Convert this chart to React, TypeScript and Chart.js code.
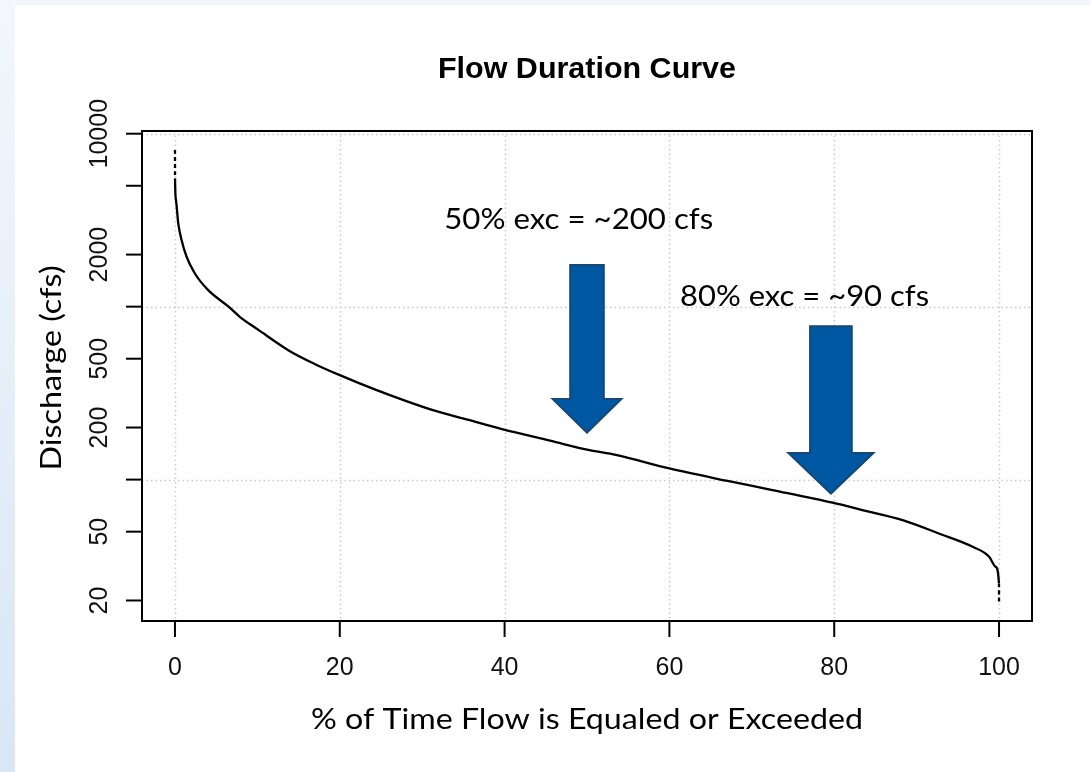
import React, { useEffect, useRef } from "react";
import { Chart, registerables } from "chart.js";

Chart.register(...registerables);

// ---------- data ----------
const pctExceeded = [
  0, 0.01, 0.12, 0.4, 0.8, 1.4, 2.4, 4.0, 6.5, 7.9, 10, 13.9, 17, 20, 24.4, 28, 31.3, 35.5,
  39.8, 45.5, 50.3, 53.5, 60, 66.9, 72.5, 79.8, 83.4, 88.3, 92.7, 96.8, 98.8, 99.6, 99.99, 100,
];
const dischargeCfs = [
  8050, 5500, 4140, 3030, 2430, 1950, 1560, 1250, 1000, 871, 741, 554, 465, 402, 330, 285, 252, 222,
  195, 168, 148, 139, 116, 98.6, 87, 73.5, 66.7, 58.3, 48.8, 40.9, 35.8, 31.3, 25.1, 19.3,
];

const xTickValues = [0, 20, 40, 60, 80, 100];
const xTickLabels = ["0", "20", "40", "60", "80", "100"];
const yTickValues = [20, 50, 100, 200, 500, 1000, 2000, 5000, 10000];
const yTickLabels = ["20", "50", "", "200", "500", "", "2000", "", "10000"];
const xGridValues = [0, 20, 40, 60, 80, 100];
const yGridValues = [100, 1000, 10000];

const annotationTexts = ["50% exc = ~200 cfs", "80% exc = ~90 cfs"];
const annotationTextPct = [49.0, 76.4];
const annotationTextCfs = [3170, 1137];
const arrowTipPct = [50, 79.6];
const arrowTipCfs = [187, 83];

const chartTitle = "Flow Duration Curve";
const xAxisTitle = "% of Time Flow is Equaled or Exceeded";
const yAxisTitle = "Discharge (cfs)";

const X_MIN = -4;
const X_MAX = 104;
const Y_MIN = 15.22;
const Y_MAX = 10366;

// ---------- styles ----------
const W = 1091;
const H = 772;
const arrowStyle = [
  { len: 167.7, shaftW: 33.6, headW: 68.7, headL: 33.7 },
  { len: 167.3, shaftW: 41.7, headW: 85, headL: 40.6 },
];
const TICK_FONT = "25px 'Liberation Sans', Arial, sans-serif";

function fitText(
  ctx: CanvasRenderingContext2D,
  text: string,
  cx: number,
  cy: number,
  font: string,
  targetW: number,
  rot = 0,
  color = "#000"
) {
  ctx.save();
  ctx.font = font;
  const w = ctx.measureText(text).width;
  ctx.translate(cx, cy);
  ctx.rotate(rot);
  ctx.scale(targetW / w, 1);
  ctx.textAlign = "center";
  ctx.textBaseline = "middle";
  ctx.fillStyle = color;
  ctx.fillText(text, 0, 0);
  ctx.restore();
}

const decorPlugin = {
  id: "decor",
  beforeDraw(chart: any) {
    const ctx: CanvasRenderingContext2D = chart.ctx;
    const { left, right, top, bottom } = chart.chartArea;
    const xs = chart.scales.x;
    const ys = chart.scales.y;
    ctx.save();
    ctx.fillStyle = "#ffffff";
    ctx.fillRect(0, 0, W, H);
    ctx.fillStyle = "#f2f6fb";
    ctx.fillRect(0, 0, W, 5);
    const g = ctx.createLinearGradient(0, 0, 0, H);
    g.addColorStop(0, "#f3f7fc");
    g.addColorStop(1, "#d9e6f5");
    ctx.fillStyle = g;
    ctx.fillRect(0, 0, 15, H);
    ctx.strokeStyle = "#c9c9c9";
    ctx.lineWidth = 1.5;
    ctx.setLineDash([1.5, 3]);
    xGridValues.forEach((v) => {
      const px = Math.round(xs.getPixelForValue(v)) + 0.5;
      ctx.beginPath();
      ctx.moveTo(px, top);
      ctx.lineTo(px, bottom);
      ctx.stroke();
    });
    yGridValues.forEach((v) => {
      const py = Math.round(ys.getPixelForValue(v)) + 0.5;
      ctx.beginPath();
      ctx.moveTo(left, py);
      ctx.lineTo(right, py);
      ctx.stroke();
    });
    ctx.restore();
  },
  afterDatasetsDraw(chart: any) {
    const ctx: CanvasRenderingContext2D = chart.ctx;
    const { left, right, top, bottom } = chart.chartArea;
    const xs = chart.scales.x;
    const ys = chart.scales.y;
    ctx.save();
    ctx.strokeStyle = "#000";
    ctx.lineWidth = 2;
    ctx.setLineDash([]);
    ctx.strokeRect(left, top, right - left, bottom - top);
    xTickValues.forEach((v, i) => {
      const px = xs.getPixelForValue(v);
      ctx.beginPath();
      ctx.moveTo(px, bottom);
      ctx.lineTo(px, bottom + 16);
      ctx.stroke();
      ctx.font = TICK_FONT;
      ctx.fillStyle = "#111";
      ctx.textAlign = "center";
      ctx.textBaseline = "middle";
      ctx.fillText(xTickLabels[i], px, 668);
    });
    yTickValues.forEach((v, i) => {
      const py = ys.getPixelForValue(v);
      ctx.beginPath();
      ctx.moveTo(left - 16, py);
      ctx.lineTo(left, py);
      ctx.stroke();
      if (yTickLabels[i]) {
        ctx.save();
        ctx.translate(100, py);
        ctx.rotate(-Math.PI / 2);
        ctx.font = TICK_FONT;
        ctx.fillStyle = "#111";
        ctx.textAlign = "center";
        ctx.textBaseline = "middle";
        ctx.fillText(yTickLabels[i], 0, 0);
        ctx.restore();
      }
    });
    fitText(ctx, chartTitle, (left + right) / 2, 70, "bold 29px 'Liberation Sans', Arial, sans-serif", 298);
    fitText(ctx, xAxisTitle, (left + right) / 2, 720, "28px Lato, 'Open Sans', sans-serif", 552);
    fitText(ctx, yAxisTitle, 52, 368, "28px Lato, 'Open Sans', sans-serif", 205, -Math.PI / 2);
    arrowTipPct.forEach((p, i) => {
      const tx = xs.getPixelForValue(p);
      const ty = ys.getPixelForValue(arrowTipCfs[i]);
      const s = arrowStyle[i];
      ctx.beginPath();
      ctx.moveTo(tx - s.shaftW / 2, ty - s.len);
      ctx.lineTo(tx + s.shaftW / 2, ty - s.len);
      ctx.lineTo(tx + s.shaftW / 2, ty - s.headL);
      ctx.lineTo(tx + s.headW / 2, ty - s.headL);
      ctx.lineTo(tx, ty);
      ctx.lineTo(tx - s.headW / 2, ty - s.headL);
      ctx.lineTo(tx - s.shaftW / 2, ty - s.headL);
      ctx.closePath();
      ctx.fillStyle = "#0058a2";
      ctx.fill();
      ctx.strokeStyle = "#154877";
      ctx.lineWidth = 2;
      ctx.stroke();
    });
    const targets = [269, 249];
    annotationTexts.forEach((t, i) => {
      const cx = xs.getPixelForValue(annotationTextPct[i]);
      const cy = ys.getPixelForValue(annotationTextCfs[i]);
      fitText(ctx, t, cx, cy, "28px Lato, 'Open Sans', sans-serif", targets[i]);
    });
    ctx.restore();
  },
};

export default function App() {
  const ref = useRef<HTMLCanvasElement>(null);
  useEffect(() => {
    if (!ref.current) return;
    const last = pctExceeded.length - 1;
    const chart = new Chart(ref.current, {
      type: "line",
      data: {
        datasets: [
          {
            data: pctExceeded.map((x, i) => ({ x, y: dischargeCfs[i] })),
            borderColor: "#000",
            borderWidth: 2.3,
            pointRadius: 0,
            cubicInterpolationMode: "monotone",
            fill: false,
            segment: {
              borderDash: (c: any) =>
                c.p0DataIndex === 0 || c.p1DataIndex === last ? [4, 3] : undefined,
            },
          } as any,
        ],
      },
      options: {
        responsive: false,
        animation: false,
        events: [],
        layout: { padding: { left: 142, right: W - 1032, top: 131, bottom: H - 621 } },
        scales: {
          x: { type: "linear", min: X_MIN, max: X_MAX, display: false },
          y: { type: "logarithmic", min: Y_MIN, max: Y_MAX, display: false },
        },
        plugins: {
          legend: { display: false },
          tooltip: { enabled: false },
          title: { display: false },
        },
      },
      plugins: [decorPlugin],
    });
    return () => chart.destroy();
  }, []);
  return (
    <div style={{ position: "fixed", left: 0, top: 0, width: W, height: H, background: "#fff" }}>
      <canvas ref={ref} width={W} height={H} style={{ width: W, height: H, display: "block" }} />
    </div>
  );
}
